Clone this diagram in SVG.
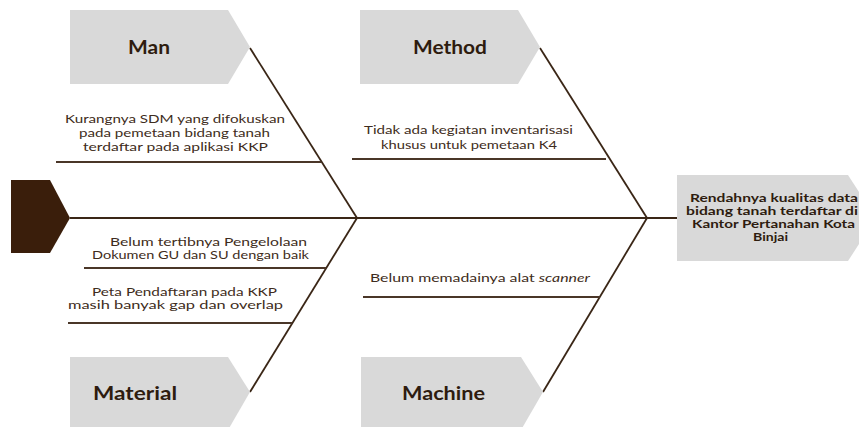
<svg xmlns="http://www.w3.org/2000/svg" width="859" height="427" viewBox="0 0 859 427">
<style>
.box{fill:#d9d9d9}
.lbl{font-family:Lato,"Open Sans","Liberation Sans",sans-serif;font-weight:bold;font-size:18px;fill:#2e1c0f}
.txt{font-family:Lato,"Open Sans","Liberation Sans",sans-serif;font-size:10.8px;fill:#3e2c20}
.eff{font-family:Lato,"Open Sans","Liberation Sans",sans-serif;font-weight:bold;font-size:10.5px;fill:#2e1c0f}
.ln{stroke:#3a2616;stroke-width:1.8;fill:none}
.rib{stroke:#4a3628;stroke-width:1.8;fill:none}
</style>
<rect width="859" height="427" fill="#ffffff"/>
<g id="head"><polygon points="11,180 50,180 70,218 50,253 11,253" fill="#3a1e0b"/></g>
<g id="connectors">
<line class="ln" x1="70" y1="218" x2="677" y2="218"/>
<line class="ln" x1="250" y1="48" x2="357" y2="218"/>
<line class="ln" x1="540" y1="48" x2="647" y2="218"/>
<line class="ln" x1="357" y1="218" x2="250" y2="392"/>
<line class="ln" x1="647" y1="218" x2="543" y2="392"/>
<line class="rib" x1="56" y1="162" x2="321" y2="162"/>
<line class="rib" x1="352" y1="159" x2="606" y2="159"/>
<line class="rib" x1="84" y1="268" x2="326" y2="268"/>
<line class="rib" x1="68" y1="323" x2="292" y2="323"/>
<line class="rib" x1="363" y1="297" x2="600" y2="297"/>
</g>
<g id="man">
<polygon class="box" points="70,10 228,10 250,47 228,84 70,84"/>
<text class="lbl" x="128" y="54" textLength="42" lengthAdjust="spacingAndGlyphs">Man</text>
</g>
<g id="method">
<polygon class="box" points="360,10 518,10 540,47 518,84 360,84"/>
<text class="lbl" x="413" y="54" textLength="74" lengthAdjust="spacingAndGlyphs">Method</text>
</g>
<g id="material">
<polygon class="box" points="70,357 228,357 250,392 228,430 70,430"/>
<text class="lbl" x="93" y="400" textLength="84" lengthAdjust="spacingAndGlyphs">Material</text>
</g>
<g id="machine">
<polygon class="box" points="361,357 521,357 543,392 521,430 361,430"/>
<text class="lbl" x="402" y="400" textLength="83" lengthAdjust="spacingAndGlyphs">Machine</text>
</g>
<g id="effect">
<polygon class="box" points="677,175 848,175 876,218 848,261 677,261"/>
<text class="eff" x="690" y="202" textLength="168" lengthAdjust="spacingAndGlyphs">Rendahnya kualitas data</text>
<text class="eff" x="686" y="215" textLength="172" lengthAdjust="spacingAndGlyphs">bidang tanah terdaftar di</text>
<text class="eff" x="692" y="228" textLength="163" lengthAdjust="spacingAndGlyphs">Kantor Pertanahan Kota</text>
<text class="eff" x="753" y="241" textLength="35" lengthAdjust="spacingAndGlyphs">Binjai</text>
</g>
<g id="cause-man-1">
<text class="txt" x="65" y="123" textLength="220" lengthAdjust="spacingAndGlyphs">Kurangnya SDM yang difokuskan</text>
<text class="txt" x="79" y="137" textLength="191" lengthAdjust="spacingAndGlyphs">pada pemetaan bidang tanah</text>
<text class="txt" x="83" y="151" textLength="185" lengthAdjust="spacingAndGlyphs">terdaftar pada aplikasi KKP</text>
</g>
<g id="cause-method-1">
<text class="txt" x="364" y="134" textLength="209" lengthAdjust="spacingAndGlyphs">Tidak ada kegiatan inventarisasi</text>
<text class="txt" x="381" y="149" textLength="176" lengthAdjust="spacingAndGlyphs">khusus untuk pemetaan K4</text>
</g>
<g id="cause-material-1">
<text class="txt" x="110" y="246" textLength="197" lengthAdjust="spacingAndGlyphs">Belum tertibnya Pengelolaan</text>
<text class="txt" x="92" y="259" textLength="217" lengthAdjust="spacingAndGlyphs">Dokumen GU dan SU dengan baik</text>
</g>
<g id="cause-material-2">
<text class="txt" x="92" y="296" textLength="185" lengthAdjust="spacingAndGlyphs">Peta Pendaftaran pada KKP</text>
<text class="txt" x="68" y="309" textLength="215" lengthAdjust="spacingAndGlyphs">masih banyak gap dan overlap</text>
</g>
<g id="cause-machine-1">
<text class="txt" x="370" y="282" textLength="220" lengthAdjust="spacingAndGlyphs">Belum memadainya alat <tspan font-style="italic">scanner</tspan></text>
</g>
</svg>
